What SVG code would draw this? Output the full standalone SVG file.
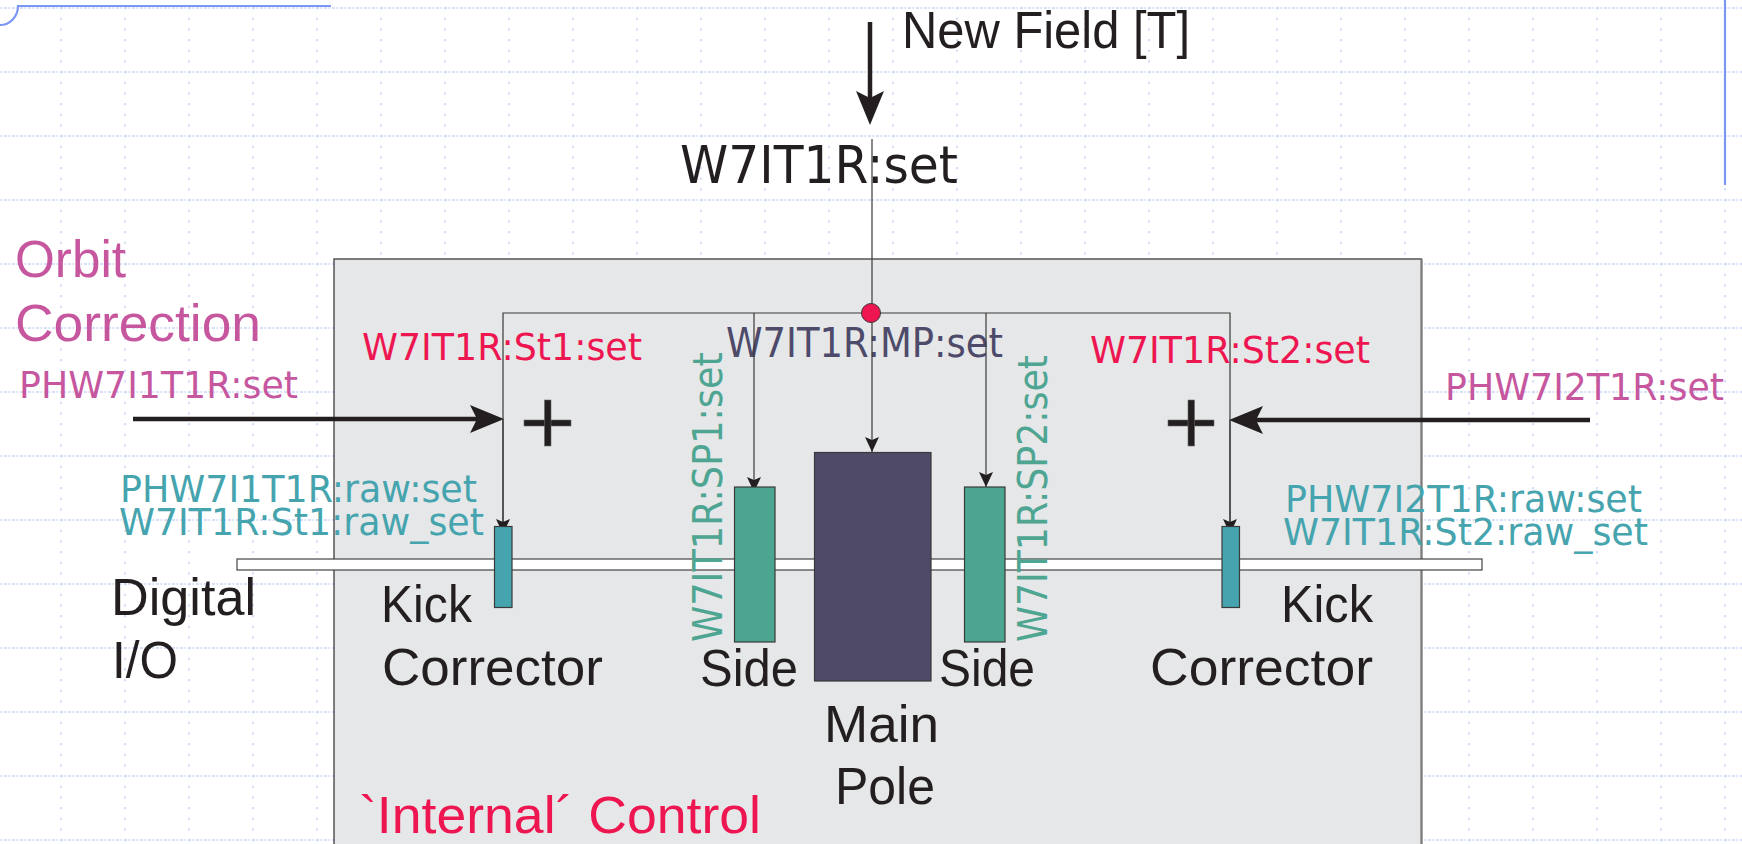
<svg xmlns="http://www.w3.org/2000/svg" width="1742" height="844" viewBox="0 0 1742 844">
  <style>
    .lbl { font-family: "Liberation Sans", Arial, sans-serif; font-size: 52px; fill: #231f20; }
    .pv { font-family: "DejaVu Sans", Verdana, sans-serif; }
    .magenta { fill: #c6579f; }
    .red { fill: #ee1651; }
    .teal { fill: #45a4ae; }
    .green { fill: #4ea592; }
    .slate { fill: #4e4a69; }
    .wire { fill: none; stroke: #3a3a3a; stroke-width: 1.2; }
    .thick { fill: none; stroke: #231f20; stroke-width: 4.5; }
    .edge { stroke: #3a3a3a; stroke-width: 1.2; }
    .plus { fill: #231f20; stroke: #6a6a6a; stroke-width: 0.6; }
  </style>
  <defs>
    <pattern id="grid" patternUnits="userSpaceOnUse" x="-4" y="7" width="64" height="64">
      <line x1="0" y1="1" x2="64" y2="1" stroke="#c6d3fb" stroke-width="1.6" stroke-dasharray="3 1.5 1.5 2"/>
      <line x1="1" y1="0" x2="1" y2="64" stroke="#c6d3fb" stroke-width="1.6" stroke-dasharray="2.2 8.467"/>
    </pattern>
    <marker id="bigHead" markerUnits="userSpaceOnUse" viewBox="0 0 34 28" refX="22" refY="14" markerWidth="34" markerHeight="28" orient="auto">
      <path d="M0,0 L34,14 L0,28 L7,14 Z" fill="#231f20"/>
    </marker>
    <marker id="smallHead" markerUnits="userSpaceOnUse" viewBox="0 0 15 14" refX="15" refY="7" markerWidth="15" markerHeight="14" orient="auto">
      <path d="M0,0 L15,7 L0,14 L3,7 Z" fill="#231f20"/>
    </marker>
  </defs>

  <!-- background sheet with dotted grid -->
  <rect x="0" y="0" width="1742" height="844" fill="#ffffff"/>
  <rect x="0" y="0" width="1742" height="844" fill="url(#grid)"/>

  <!-- page frame fragments -->
  <g id="frame" fill="none" stroke="#7b97f3" stroke-width="2.2">
    <path d="M331,6 L18,6 A18,19 0 0 1 0,25"/>
    <line x1="1725" y1="0" x2="1725" y2="185"/>
  </g>

  <!-- internal control area -->
  <g id="control-area">
    <rect x="334" y="259" width="1087.5" height="620" fill="#e6e7e9" stroke="#4a4a4a" stroke-width="1.4"/>
    <line x1="1421.5" y1="259" x2="1421.5" y2="844" stroke="#7a7a7a" stroke-width="2"/>
    <text class="lbl red" x="359" y="833" textLength="402" lengthAdjust="spacingAndGlyphs">`Internal´ Control</text>
  </g>

  <!-- digital I/O bus -->
  <g id="io-bus">
    <rect x="237" y="559" width="1245" height="11" fill="#ffffff" stroke="#444" stroke-width="1.2"/>
    <text class="lbl" x="111" y="615" textLength="145" lengthAdjust="spacingAndGlyphs">Digital</text>
    <text class="lbl" x="112" y="678" textLength="66" lengthAdjust="spacingAndGlyphs">I/O</text>
  </g>

  <!-- input labels -->
  <g id="inputs">
    <text class="lbl" x="902" y="48" textLength="288" lengthAdjust="spacingAndGlyphs">New Field [T]</text>
    <text class="pv" x="680" y="183" font-size="52" fill="#231f20" textLength="278" lengthAdjust="spacingAndGlyphs">W7IT1R:set</text>
    <text class="lbl magenta" x="15" y="277" textLength="111" lengthAdjust="spacingAndGlyphs">Orbit</text>
    <text class="lbl magenta" x="15" y="341" textLength="246" lengthAdjust="spacingAndGlyphs">Correction</text>
    <text class="pv magenta" x="19" y="398" font-size="37" textLength="279" lengthAdjust="spacingAndGlyphs">PHW7I1T1R:set</text>
    <text class="pv magenta" x="1445" y="400" font-size="37" textLength="279" lengthAdjust="spacingAndGlyphs">PHW7I2T1R:set</text>
  </g>

  <!-- setpoint labels -->
  <g id="setpoint-labels">
    <text class="pv red" x="362" y="360" font-size="37" textLength="280" lengthAdjust="spacingAndGlyphs">W7IT1R:St1:set</text>
    <text class="pv red" x="1090" y="363" font-size="37" textLength="280" lengthAdjust="spacingAndGlyphs">W7IT1R:St2:set</text>
    <text class="pv slate" x="726" y="357" font-size="40" textLength="277" lengthAdjust="spacingAndGlyphs">W7IT1R:MP:set</text>
    <text class="pv green" x="722" y="642" font-size="41" transform="rotate(-90 722 642)" textLength="290" lengthAdjust="spacingAndGlyphs">W7IT1R:SP1:set</text>
    <text class="pv green" x="1047" y="642" font-size="41" transform="rotate(-90 1047 642)" textLength="287" lengthAdjust="spacingAndGlyphs">W7IT1R:SP2:set</text>
    <text class="pv teal" x="120" y="502" font-size="37" textLength="357" lengthAdjust="spacingAndGlyphs">PHW7I1T1R:raw:set</text>
    <text class="pv teal" x="119" y="535" font-size="37" textLength="365" lengthAdjust="spacingAndGlyphs">W7IT1R:St1:raw_set</text>
    <text class="pv teal" x="1285" y="512" font-size="37" textLength="357" lengthAdjust="spacingAndGlyphs">PHW7I2T1R:raw:set</text>
    <text class="pv teal" x="1283" y="545" font-size="37" textLength="365" lengthAdjust="spacingAndGlyphs">W7IT1R:St2:raw_set</text>
  </g>

  <!-- signal connectors -->
  <g id="connectors">
    <line class="thick" x1="870" y1="22" x2="870" y2="113" marker-end="url(#bigHead)"/>
    <line class="thick" x1="133" y1="419" x2="492" y2="419" marker-end="url(#bigHead)"/>
    <line class="thick" x1="1590" y1="420" x2="1241" y2="420" marker-end="url(#bigHead)"/>
    <line class="wire" x1="872" y1="139" x2="872" y2="304"/>
    <polyline class="wire" points="503,534 503,313 1230,313 1230,534"/>
    <line class="wire" x1="503" y1="419" x2="503" y2="534" marker-end="url(#smallHead)"/>
    <line class="wire" x1="1230" y1="420" x2="1230" y2="534" marker-end="url(#smallHead)"/>
    <line class="wire" x1="754" y1="313" x2="754" y2="492" marker-end="url(#smallHead)"/>
    <line class="wire" x1="986" y1="313" x2="986" y2="487" marker-end="url(#smallHead)"/>
    <line class="wire" x1="872" y1="322" x2="872" y2="452" marker-end="url(#smallHead)"/>
  </g>

  <!-- field distribution junction -->
  <g id="junction">
    <circle cx="871" cy="313" r="9.5" fill="#ee1651" stroke="#3a3a3a" stroke-width="1"/>
  </g>

  <!-- summing points -->
  <g id="sum-left">
    <rect class="plus" x="524" y="420" width="47" height="6"/>
    <rect class="plus" x="544.5" y="400" width="6.5" height="46"/>
  </g>
  <g id="sum-right">
    <rect class="plus" x="1168" y="420" width="46" height="6"/>
    <rect class="plus" x="1188" y="400" width="6.5" height="46"/>
  </g>

  <!-- magnet elements -->
  <g id="kick-corrector-1">
    <rect class="edge" x="494.5" y="526.5" width="17.5" height="81" fill="#46a4ae"/>
    <text class="lbl" x="381" y="622" textLength="91" lengthAdjust="spacingAndGlyphs">Kick</text>
    <text class="lbl" x="382" y="685" textLength="221" lengthAdjust="spacingAndGlyphs">Corrector</text>
  </g>
  <g id="side-pole-1">
    <rect class="edge" x="734.5" y="487" width="40.5" height="155" fill="#4ba591"/>
    <text class="lbl" x="700" y="686" textLength="98" lengthAdjust="spacingAndGlyphs">Side</text>
  </g>
  <g id="main-pole">
    <rect class="edge" x="814.5" y="452.5" width="116.5" height="228.5" fill="#4f4a68"/>
    <text class="lbl" x="824" y="742" textLength="115" lengthAdjust="spacingAndGlyphs">Main</text>
    <text class="lbl" x="835" y="804" textLength="100" lengthAdjust="spacingAndGlyphs">Pole</text>
  </g>
  <g id="side-pole-2">
    <rect class="edge" x="964.5" y="487" width="40.5" height="155" fill="#4ba591"/>
    <text class="lbl" x="939" y="686" textLength="96" lengthAdjust="spacingAndGlyphs">Side</text>
  </g>
  <g id="kick-corrector-2">
    <rect class="edge" x="1222" y="526.5" width="17.5" height="81" fill="#46a4ae"/>
    <text class="lbl" x="1281" y="622" textLength="92" lengthAdjust="spacingAndGlyphs">Kick</text>
    <text class="lbl" x="1150" y="685" textLength="223" lengthAdjust="spacingAndGlyphs">Corrector</text>
  </g>
</svg>
